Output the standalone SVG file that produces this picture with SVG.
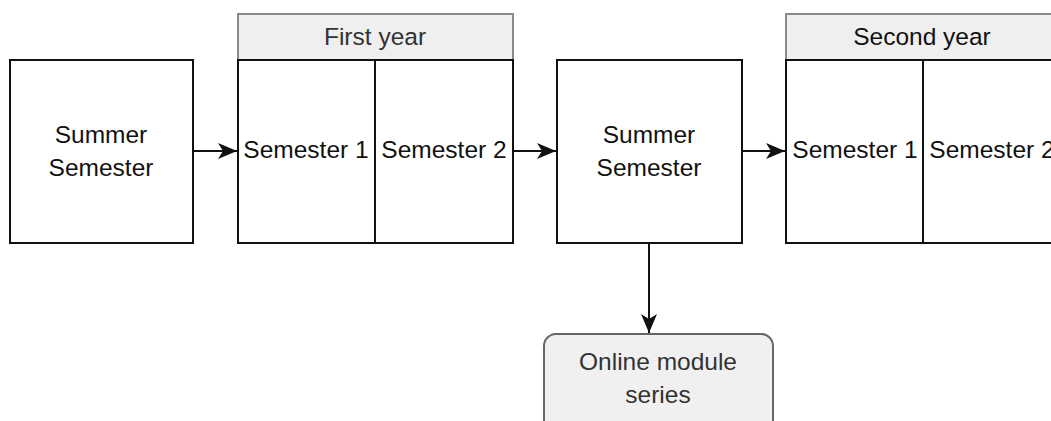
<svg xmlns="http://www.w3.org/2000/svg" width="1051" height="421" viewBox="0 0 1051 421">
<style>
.box{fill:#fff;stroke:#111;stroke-width:2}
.hdr{fill:#efefef;stroke:#8a8a8a;stroke-width:2}
.t{font-family:"Liberation Sans",Arial,sans-serif;font-size:24.5px;fill:#111;text-anchor:middle}
.tg{font-family:"Liberation Sans",Arial,sans-serif;font-size:24.5px;fill:#333;text-anchor:middle}
.edge{fill:none;stroke:#111;stroke-width:2}
.online{fill:#f0f0f0;stroke:#666;stroke-width:2}
</style>
<defs>
<marker id="arr" viewBox="0 0 19 16" refX="19" refY="8" markerWidth="19" markerHeight="16" markerUnits="userSpaceOnUse" orient="auto">
<path d="M0,0 L19,8 L0,16 L5,8 Z" fill="#111"/>
</marker>
</defs>
<rect width="1051" height="421" fill="#fff"/>
<g id="connectors">
<line class="edge" x1="193" y1="151" x2="237" y2="151" marker-end="url(#arr)"/>
<line class="edge" x1="513" y1="151" x2="556" y2="151" marker-end="url(#arr)"/>
<line class="edge" x1="742" y1="151" x2="785" y2="151" marker-end="url(#arr)"/>
<line class="edge" x1="649" y1="243" x2="649" y2="333" marker-end="url(#arr)"/>
</g>
<g id="summer1">
<rect class="box" x="10" y="60" width="183" height="183"/>
<text class="t" x="101" y="143">Summer</text>
<text class="t" x="101" y="176">Semester</text>
</g>
<g id="first-year">
<rect class="hdr" x="238" y="14" width="275" height="46"/>
<text class="tg" x="375" y="45">First year</text>
<rect class="box" x="238" y="60" width="137" height="183"/>
<rect class="box" x="375" y="60" width="138" height="183"/>
<text class="t" x="306" y="158">Semester 1</text>
<text class="t" x="444" y="158">Semester 2</text>
</g>
<g id="summer2">
<rect class="box" x="557" y="60" width="185" height="183"/>
<text class="t" x="649" y="143">Summer</text>
<text class="t" x="649" y="176">Semester</text>
</g>
<g id="second-year">
<rect class="hdr" x="786" y="14" width="276" height="46"/>
<text class="t" x="922" y="45">Second year</text>
<rect class="box" x="786" y="60" width="137" height="183"/>
<rect class="box" x="923" y="60" width="139" height="183"/>
<text class="t" x="855" y="158">Semester 1</text>
<text class="t" x="992" y="158">Semester 2</text>
</g>
<g id="online">
<rect class="online" x="544" y="334" width="229" height="110" rx="12" ry="12"/>
<text class="tg" x="658" y="370">Online module</text>
<text class="tg" x="658" y="403">series</text>
</g>
</svg>
